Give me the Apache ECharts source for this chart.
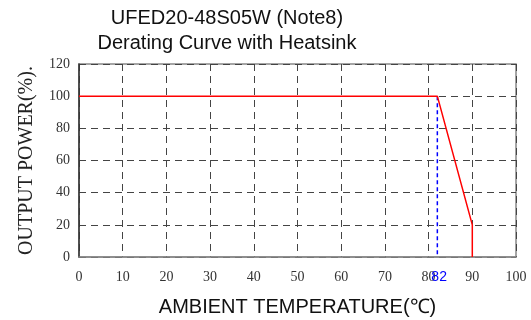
<!DOCTYPE html>
<html><head><meta charset="utf-8">
<script src="https://cdn.jsdelivr.net/npm/echarts@6/dist/echarts.min.js"></script>
<style>html,body{margin:0;padding:0;background:#fff}#c{width:531px;height:320px}</style>
</head><body><div id="c"></div>
<script>
const titleLines = ["UFED20-48S05W (Note8)", "Derating Curve with Heatsink"];
const xName = "AMBIENT TEMPERATURE(℃)";
const yName = "OUTPUT POWER(%).";
const xTicks = [0, 10, 20, 30, 40, 50, 60, 70, 80, 90, 100];
const yTicks = [0, 20, 40, 60, 80, 100, 120];
const curveX = [0, 82, 90, 90];
const curveY = [100, 100, 20, 0];
const markX = [82, 82];
const markY = [100, 0];
const markLabel = "82";

const chart = echarts.init(document.getElementById('c'));
const serif = '"Liberation Serif", "Times New Roman", serif';
const sans = '"Liberation Sans", Arial, sans-serif';
chart.setOption({
  animation: false,
  title: {
    text: titleLines.join('\n'),
    left: 222, top: 1, textAlign: 'center',
    textStyle: {fontFamily: sans, fontSize: 20, fontWeight: 'normal', color: '#111', lineHeight: 25}
  },
  grid: {left: 79, right: 15, top: 64, bottom: 63, show: true, borderColor: '#888', borderWidth: 1.5,
         outerBoundsMode: 'none', containLabel: false},
  xAxis: {
    type: 'value', min: xTicks[0], max: xTicks[xTicks.length-1], interval: 10,
    name: xName, nameLocation: 'middle', nameGap: 40,
    nameTextStyle: {fontFamily: sans, fontSize: 20, color: '#111'},
    axisLine: {show: true, lineStyle: {color: '#888', width: 1.5}},
    axisTick: {show: false},
    axisLabel: {fontFamily: serif, fontSize: 14, color: '#333', margin: 13},
    splitLine: {show: true, lineStyle: {color: '#444', type: [7, 5], width: 1}}
  },
  yAxis: {
    type: 'value', min: yTicks[0], max: yTicks[yTicks.length-1], interval: 20,
    name: yName, nameLocation: 'middle', nameGap: 42,
    nameTextStyle: {fontFamily: serif, fontSize: 20, color: '#222'},
    axisLine: {show: true, lineStyle: {color: '#333', width: 1.5}},
    axisTick: {show: false},
    axisLabel: {fontFamily: serif, fontSize: 14, color: '#333', margin: 9},
    splitLine: {show: true, lineStyle: {color: '#444', type: [7, 5], width: 1}}
  },
  series: [
    {
      type: 'line', data: markX.map((x, i) => [x, markY[i]]), symbol: 'none',
      lineStyle: {color: '#0000ff', width: 1.5, type: [4, 3]},
      label: {show: false},
      endLabel: {show: true, formatter: markLabel, color: '#0000ff', fontFamily: sans, fontSize: 14, distance: 0, offset: [-6, 20]}
    },
    {
      type: 'line', data: curveX.map((x, i) => [x, curveY[i]]), symbol: 'none',
      lineStyle: {color: '#ff0000', width: 1.5}, z: 3
    }
  ]
});
</script></body></html>
